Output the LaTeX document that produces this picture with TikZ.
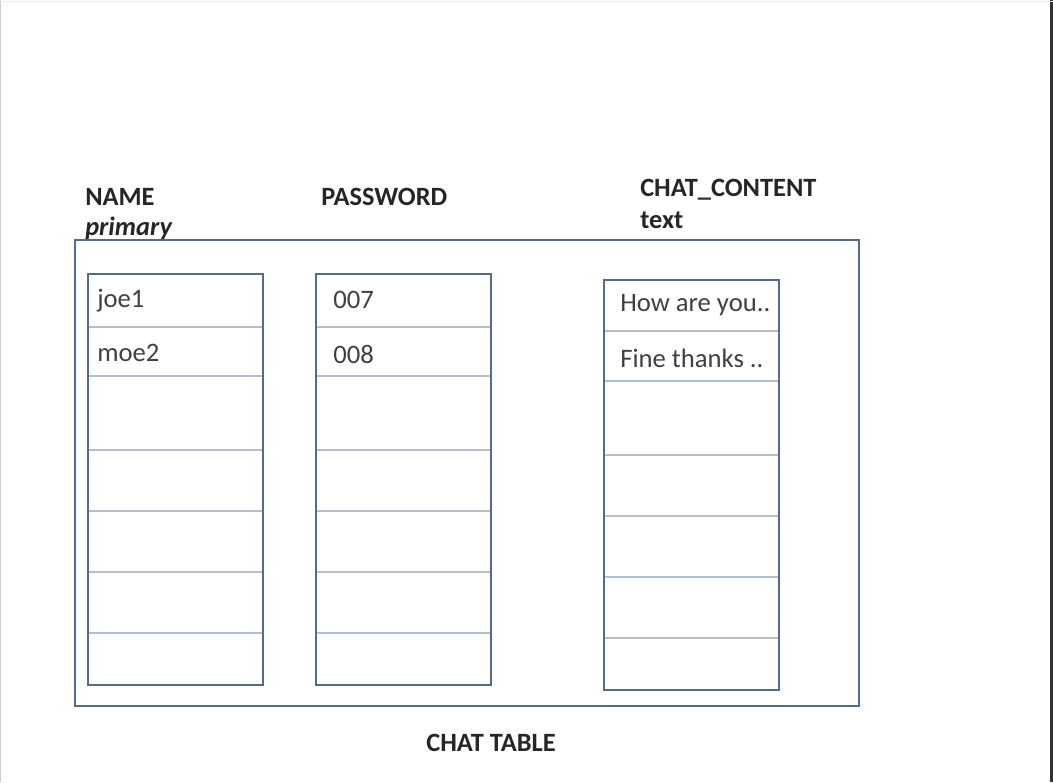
\documentclass[tikz,border=0pt]{standalone}
\usepackage{fontspec}
\setmainfont{Carlito}
\begin{document}
\begin{tikzpicture}[x=0.75pt,y=-0.75pt,
  frame/.style={draw=boxblue,line width=2.2pt,anchor=north west,inner sep=0pt,outer sep=0pt},
  rowline/.style={draw=rowgrey,line width=1.3pt},
  hdr/.style={anchor=west,inner sep=0pt,font=\bfseries\fontsize{19.8}{22}\selectfont,text=black!85},
  cell/.style={anchor=west,inner sep=0pt,font=\fontsize{20}{22}\selectfont,text=black!75}]
\definecolor{boxblue}{HTML}{566B8C}
\definecolor{rowgrey}{HTML}{B4BDCC}
\useasboundingbox (0,0) rectangle (1053,782);
% screen frame
\draw[gray!40,line width=0.8pt] (0.5,0) -- (0.5,782);
\draw[black!80,line width=2pt] (1051.5,0) -- (1051.5,782);
\draw[gray!15,line width=0.6pt] (0,1) -- (1053,1);
% outer table
\node[frame,minimum width=588pt,minimum height=349.5pt] (tbl) at (75,240) {};
% columns
\node[frame,minimum width=131.25pt,minimum height=308.25pt] (c1) at (88,274) {};
\node[frame,minimum width=131.25pt,minimum height=308.25pt] (c2) at (316,274) {};
\node[frame,minimum width=131.25pt,minimum height=307.5pt] (c3) at (604,280) {};
% row lines
\foreach \y in {327,376,450,511,572,633}{
  \draw[rowline] (89,\y) -- (262,\y);
  \draw[rowline] (317,\y) -- (490,\y);
}
\foreach \y in {331,381,455,516,577,638}{
  \draw[rowline] (605,\y) -- (778,\y);
}
% headers
\node[hdr] (hname) at (85,197) {NAME};
\node[hdr,font=\bfseries\itshape\fontsize{19.8}{22}\selectfont] (hprim) at (85,228) {primary};
\node[hdr] (hpass) at (321,197) {PASSWORD};
\node[hdr] (hchat) at (640,190) {CHAT\_CONTENT};
\node[hdr] (htext) at (640,220) {text};
% cells
\node[cell] (r1c1) at (97,301) {joe1};
\node[cell] (r2c1) at (97,353) {moe2};
\node[cell] (r1c2) at (333,300) {007};
\node[cell] (r2c2) at (333,354) {008};
\node[cell] (r1c3) at (620,305) {How are you..};
\node[cell] (r2c3) at (620,358) {Fine thanks ..};
% caption
\node[hdr,anchor=center] (cap) at (491,743) {CHAT TABLE};
\end{tikzpicture}
\end{document}
